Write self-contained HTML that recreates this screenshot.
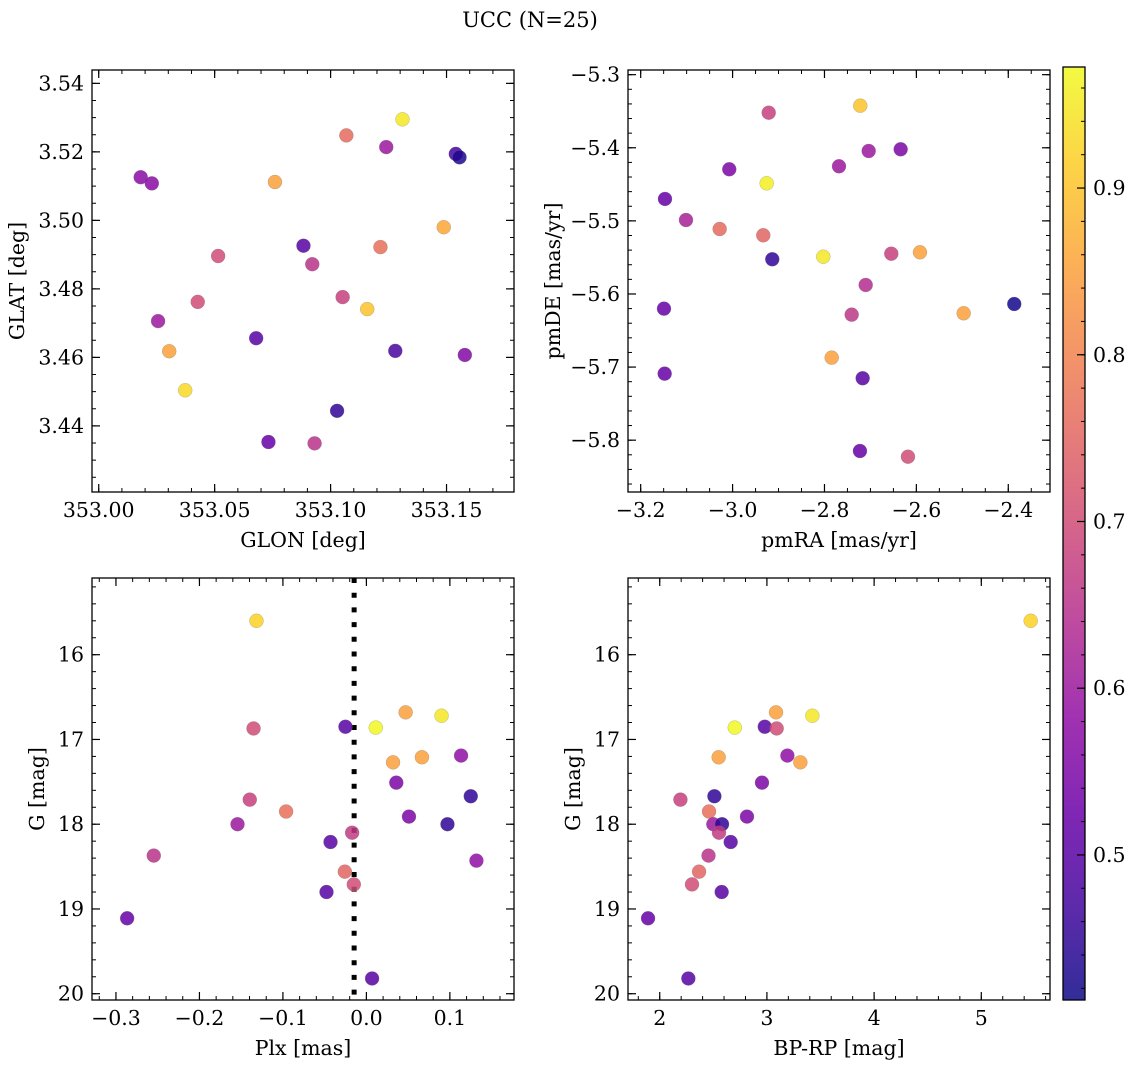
<!DOCTYPE html>
<html><head><meta charset="utf-8">
<style>
html,body{margin:0;padding:0;background:#fff;}
svg{display:block;font-family:"DejaVu Serif","Liberation Serif",serif;}
</style></head>
<body>
<svg id="fig" width="1136" height="1067" viewBox="0 0 1136 1067" xmlns="http://www.w3.org/2000/svg">
<defs>
<linearGradient id="cbgrad" x1="0" y1="1" x2="0" y2="0"></linearGradient>
</defs>
<text x="530" y="27" font-size="21" text-anchor="middle">UCC (N=25)</text>
</svg>
<script>
// Panel 1: positions
const glon = [353.0181,353.0229,353.1068,353.1310,353.1240,353.1540,353.1556,353.0760,353.1488,353.0883,353.0515,353.0921,353.1215,353.0427,353.1052,353.1158,353.0256,353.0679,353.0304,353.1279,353.1579,353.0373,353.1028,353.0732,353.0931];
const glat = [3.5126,3.5108,3.5248,3.5295,3.5214,3.5194,3.5184,3.5112,3.4980,3.4926,3.4896,3.4872,3.4922,3.4762,3.4776,3.4741,3.4706,3.4656,3.4618,3.4619,3.4607,3.4504,3.4444,3.4353,3.4349];
const probPos = [0.57,0.57,0.76,0.95,0.6,0.47,0.43,0.85,0.86,0.5,0.7,0.65,0.77,0.7,0.68,0.9,0.6,0.5,0.85,0.48,0.56,0.93,0.45,0.52,0.65];
// Panel 2: proper motions
const pmra = [-3.1471,-3.1014,-3.0072,-2.9214,-2.7221,-2.7684,-2.7038,-2.6342,-2.9258,-3.0281,-2.9332,-2.9136,-2.8026,-2.6546,-2.5922,-2.7103,-3.1493,-2.7408,-2.4971,-2.3870,-3.1478,-2.7843,-2.7169,-2.7228,-2.6183];
const pmde = [-5.4700,-5.4988,-5.4294,-5.3520,-5.3424,-5.4253,-5.4044,-5.4021,-5.4486,-5.5111,-5.5197,-5.5525,-5.5490,-5.5449,-5.5430,-5.5877,-5.6201,-5.6283,-5.6264,-5.6137,-5.7090,-5.6871,-5.7153,-5.8148,-5.8226];
const probPm = [0.52,0.62,0.55,0.68,0.9,0.6,0.6,0.55,0.96,0.76,0.75,0.45,0.95,0.68,0.85,0.64,0.52,0.66,0.85,0.42,0.52,0.85,0.5,0.52,0.7];
// Panel 3: parallax vs G
const plx = [-0.1317,-0.1352,-0.0251,0.0112,0.0470,0.0900,0.0319,0.0665,0.1134,0.0358,0.1250,-0.1397,-0.0962,-0.1544,0.0510,0.0971,-0.0171,-0.0430,-0.2547,0.1318,-0.0258,-0.0151,-0.0478,-0.2866,0.0068];
const gPlx = [15.60,16.87,16.85,16.86,16.68,16.72,17.27,17.21,17.19,17.51,17.67,17.71,17.85,18.00,17.91,18.00,18.10,18.21,18.37,18.43,18.56,18.71,18.80,19.11,19.82];
const probPlx = [0.92,0.7,0.5,0.97,0.85,0.95,0.85,0.85,0.58,0.55,0.45,0.68,0.77,0.6,0.55,0.45,0.67,0.5,0.65,0.58,0.75,0.7,0.5,0.52,0.5];
const plxLine = [-0.0147];
// Panel 4: CMD
const bprp = [5.461,2.700,2.980,3.091,3.085,3.424,2.550,3.191,3.312,2.954,2.510,2.193,2.460,2.500,2.814,2.581,2.553,2.662,2.455,2.367,2.301,2.578,1.891,2.267];
const gCmd = [15.60,16.86,16.85,16.87,16.68,16.72,17.21,17.19,17.27,17.51,17.67,17.71,17.85,18.00,17.91,18.00,18.10,18.21,18.37,18.56,18.71,18.80,19.11,19.82];
const probCmd = [0.92,0.97,0.5,0.7,0.85,0.95,0.85,0.58,0.85,0.55,0.45,0.68,0.77,0.6,0.55,0.45,0.67,0.5,0.65,0.75,0.7,0.5,0.52,0.5];
// tick labels
const ticksGlon = [353.00,353.05,353.10,353.15];
const ticksGlat = [3.44,3.46,3.48,3.50,3.52,3.54];
const ticksPmra = [-3.2,-3.0,-2.8,-2.6,-2.4];
const ticksPmde = [-5.8,-5.7,-5.6,-5.5,-5.4,-5.3];
const ticksPlx = [-0.3,-0.2,-0.1,0.0,0.1];
const ticksG = [16,17,18,19,20];
const ticksBprp = [2,3,4,5];
const ticksCbar = [0.5,0.6,0.7,0.8,0.9];
const cbarRange = [0.413,0.9726];

const NS="http://www.w3.org/2000/svg";
const svg=document.getElementById('fig');
const FS=20.5;
function mk(tag,attrs,parent){const e=document.createElementNS(NS,tag);for(const k in attrs)e.setAttribute(k,attrs[k]);(parent||svg).appendChild(e);return e;}
const stops=[[13,8,135],[65,4,157],[106,0,168],[143,13,164],[177,42,144],[204,71,120],[225,100,98],[242,132,75],[252,166,54],[252,206,37],[240,249,33]];
function plasma(t){t=Math.max(0,Math.min(1,t));const f=t*10,i=Math.min(9,Math.floor(f)),r=f-i;const a=stops[i],b=stops[i+1];return 'rgb('+a.map((v,k)=>Math.round(v+(b[k]-v)*r)).join(',')+')';}
function pColor(p){return plasma((p-cbarRange[0])/(cbarRange[1]-cbarRange[0]));}
function lin(d0,d1,r0,r1){return v=>r0+(v-d0)/(d1-d0)*(r1-r0);}
function minorVals(lo,hi,step){const out=[];const s=Math.ceil(lo/step-1e-9);for(let k=s;k*step<=hi+1e-9;k++)out.push(+(k*step).toFixed(6));return out;}

function panel(o){
  const g=mk('g',{});
  
  
  const X=lin(o.xd[0],o.xd[1],o.x0,o.x0+422), Y=lin(o.yd[0],o.yd[1],o.y0,o.y0+422);
  const xlo=Math.min(...o.xd),xhi=Math.max(...o.xd),ylo=Math.min(...o.yd),yhi=Math.max(...o.yd);
  minorVals(xlo,xhi,o.xminor).forEach(v=>{const x=X(v);
    mk('line',{x1:x,y1:o.y0+422,x2:x,y2:o.y0+422-4,stroke:'#000','stroke-width':1},g);
    mk('line',{x1:x,y1:o.y0,x2:x,y2:o.y0+4,stroke:'#000','stroke-width':1},g);});
  minorVals(ylo,yhi,o.yminor).forEach(v=>{const y=Y(v);
    mk('line',{x1:o.x0,y1:y,x2:o.x0+4,y2:y,stroke:'#000','stroke-width':1},g);
    mk('line',{x1:o.x0+422,y1:y,x2:o.x0+418,y2:y,stroke:'#000','stroke-width':1},g);});
  o.xt.forEach(v=>{const x=X(v);
    mk('line',{x1:x,y1:o.y0+422,x2:x,y2:o.y0+414,stroke:'#000','stroke-width':1.2},g);
    mk('line',{x1:x,y1:o.y0,x2:x,y2:o.y0+8,stroke:'#000','stroke-width':1.2},g);
    const t=mk('text',{x:x,y:o.y0+447,'font-size':FS,'text-anchor':'middle'},g);
    
    
    t.textContent=o.xf(v);});
  o.yt.forEach(v=>{const y=Y(v);
    mk('line',{x1:o.x0,y1:y,x2:o.x0+8,y2:y,stroke:'#000','stroke-width':1.2},g);
    mk('line',{x1:o.x0+422,y1:y,x2:o.x0+414,y2:y,stroke:'#000','stroke-width':1.2},g);
    const t=mk('text',{x:o.x0-8,y:y+7,'font-size':FS,'text-anchor':'end'},g);
    
    
    t.textContent=o.yf(v);});
  if(o.vline){o.vline.forEach(v=>{const l=mk('line',{x1:X(v),y1:o.y0,x2:X(v),y2:o.y0+422,stroke:'#000','stroke-width':5,'stroke-dasharray':'5 9.7'},g);
    
    });}
  o.xs.forEach((v,i)=>{const c=mk('circle',{cx:X(v),cy:Y(o.ys[i]),r:7,fill:pColor(o.ps[i]),'fill-opacity':0.85,stroke:'#777','stroke-width':0.4,'stroke-opacity':0.6},g);
    
    });
  const fr=mk('rect',{x:o.x0,y:o.y0,width:422,height:422,fill:'none',stroke:'#000','stroke-width':1.3},g);
  
  
  const xl=mk('text',{x:o.x0+211,y:o.y0+477,'font-size':FS,'text-anchor':'middle'},g);
  
  
  xl.textContent=o.xlabel;
  const yl=mk('text',{x:o.ylx,y:o.y0+211,'font-size':FS,'text-anchor':'middle',transform:'rotate(-90 '+o.ylx+' '+(o.y0+211)+')'},g);
  
  
  yl.textContent=o.ylabel;
}
panel({name:'position-panel',x0:92,y0:70,xd:[352.9971,353.1791],yd:[3.5439,3.4207],xt:ticksGlon,yt:ticksGlat,xminor:0.01,yminor:0.005,xf:v=>v.toFixed(2),yf:v=>v.toFixed(2),xs:glon,ys:glat,ps:probPos,xlabel:'GLON [deg]',ylabel:'GLAT [deg]',ylx:24});
panel({name:'proper-motion-panel',x0:628,y0:70,xd:[-3.2276,-2.3092],yd:[-5.2936,-5.8709],xt:ticksPmra,yt:ticksPmde,xminor:0.05,yminor:0.02,xf:v=>v.toFixed(1).replace('-','\u2212'),yf:v=>v.toFixed(1).replace('-','\u2212'),xs:pmra,ys:pmde,ps:probPm,xlabel:'pmRA [mas/yr]',ylabel:'pmDE [mas/yr]',ylx:560});
panel({name:'parallax-panel',x0:92,y0:578,xd:[-0.3287,0.1768],yd:[15.095,20.074],xt:ticksPlx,yt:ticksG,xminor:0.02,yminor:0.2,xf:v=>v.toFixed(1).replace('-','\u2212'),yf:v=>String(v),xs:plx,ys:gPlx,ps:probPlx,vline:plxLine,xlabel:'Plx [mas]',ylabel:'G [mag]',ylx:44});
panel({name:'cmd-panel',x0:628,y0:578,xd:[1.704,5.641],yd:[15.095,20.074],xt:ticksBprp,yt:ticksG,xminor:0.2,yminor:0.2,xf:v=>String(v),yf:v=>String(v),xs:bprp,ys:gCmd,ps:probCmd,xlabel:'BP-RP [mag]',ylabel:'G [mag]',ylx:580});

// colorbar
(function(){
  const grad=document.getElementById('cbgrad');
  for(let i=0;i<=20;i++){const s=document.createElementNS(NS,'stop');s.setAttribute('offset',(i/20).toFixed(3));s.setAttribute('stop-color',plasma(i/20));s.setAttribute('stop-opacity','0.85');grad.appendChild(s);}
  const g=mk('g',{});
  
  
  const x0=1063,y0=67,w=22,h=933;
  const C=lin(cbarRange[0],cbarRange[1],y0+h,y0);
  mk('rect',{x:x0,y:y0,width:w,height:h,fill:'url(#cbgrad)'},g);
  minorVals(cbarRange[0],cbarRange[1],0.02).forEach(v=>{mk('line',{x1:x0+w,y1:C(v),x2:x0+w-4,y2:C(v),stroke:'#000','stroke-width':1},g);});
  ticksCbar.forEach(v=>{const y=C(v);
    mk('line',{x1:x0+w,y1:y,x2:x0+w-8,y2:y,stroke:'#000','stroke-width':1.2},g);
    const t=mk('text',{x:x0+w+8,y:y+7,'font-size':FS},g);
    
    
    t.textContent=v.toFixed(1);});
  mk('rect',{x:x0,y:y0,width:w,height:h,fill:'none',stroke:'#000','stroke-width':1.3},g);
})();
</script>
</body></html>
